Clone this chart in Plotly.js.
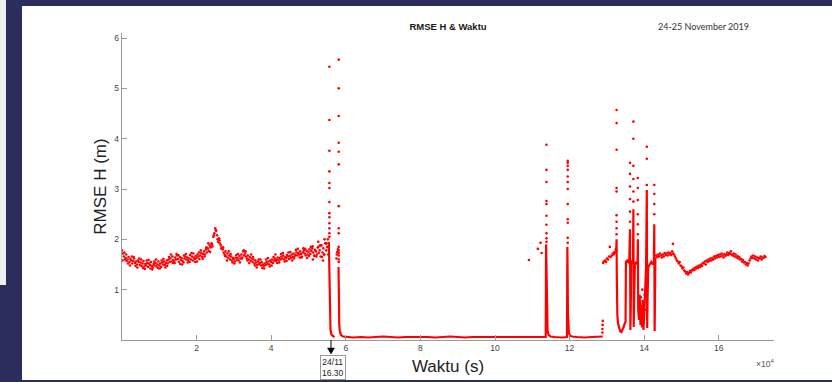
<!DOCTYPE html>
<html><head><meta charset="utf-8">
<script src="https://cdn.plot.ly/plotly-3.0.1.min.js"></script>
<style>
html,body{margin:0;padding:0;width:832px;height:382px;overflow:hidden;background:#2b2e5c;}
#panel{position:absolute;left:0;top:0;width:6px;height:285px;background:#f0f0f0;}
#chart{position:absolute;left:22px;top:6px;width:810px;height:374px;background:#fff;}
</style></head><body>
<div id="panel"></div><div id="chart"></div>
<script>
// Noisy segment before the first drop (time in s, RMSE H in m)
const segA_x = [0,250,500,750,1000,1250,1500,1750,2000,2250,2500,2750,3000,3250,3500,3750,4000,4250,4500,4750,
5000,5250,5500,5750,6000,6250,6500,6750,7000,7250,7500,7750,8000,8250,8500,8750,9000,9250,9500,9750,
10000,10250,10500,10750,11000,11250,11500,11750,12000,12250,12500,12750,13000,13250,13500,13750,14000,14250,14500,14750,
15000,15250,15500,15750,16000,16250,16500,16750,17000,17250,17500,17750,18000,18250,18500,18750,19000,19250,19500,19750,
20000,20250,20500,20750,21000,21250,21500,21750,22000,22250,22500,22750,23000,23250,23500,23750,24000,24250,24500,24750,
25000,25250,25500,25750,26000,26250,26500,26750,27000,27250,27500,27750,28000,28250,28500,28750,29000,29250,29500,29750,
30000,30250,30500,30750,31000,31250,31500,31750,32000,32250,32500,32750,33000,33250,33500,33750,34000,34250,34500,34750,
35000,35250,35500,35750,36000,36250,36500,36750,37000,37250,37500,37750,38000,38250,38500,38750,39000,39250,39500,39750,
40000,40250,40500,40750,41000,41250,41500,41750,42000,42250,42500,42750,43000,43250,43500,43750,44000,44250,44500,44750,
45000,45250,45500,45750,46000,46250,46500,46750,47000,47250,47500,47750,48000,48250,48500,48750,49000,49250,49500,49750,
50000,50250,50500,50750,51000,51250,51500,51750,52000,52250,52500,52750,53000,53250,53500,53750,54000,54250,54500,54750,
55000];
const segA_y = [1.78,1.72,1.66,1.60, 1.63,1.57,1.60,1.65, 1.55,1.61,1.58,1.52, 1.57,1.62,1.53,1.56, 1.50,1.58,1.55,1.49,
1.54,1.47,1.52,1.57, 1.46,1.51,1.48,1.53, 1.45,1.52,1.49,1.55, 1.47,1.44,1.51,1.48, 1.53,1.46,1.50,1.56,
1.48,1.52,1.45,1.54, 1.50,1.56,1.49,1.53, 1.58,1.52,1.60,1.55, 1.62,1.56,1.66,1.59, 1.57,1.64,1.60,1.68,
1.61,1.55,1.65,1.59, 1.63,1.57,1.54,1.62, 1.66,1.60,1.64,1.58, 1.62,1.69,1.60,1.66, 1.58,1.64,1.61,1.67,
1.63,1.70,1.66,1.61, 1.68,1.73,1.65,1.71, 1.76,1.70,1.80,1.74, 1.82,1.77,1.88,1.84, 1.92,1.86,2.05,2.12,
2.22,2.17,2.08,1.95, 2.02,1.92,1.88,1.83, 1.80,1.74,1.70,1.76, 1.66,1.72,1.63,1.68, 1.60,1.66,1.58,1.63,
1.61,1.56,1.64,1.59, 1.63,1.58,1.67,1.62, 1.70,1.64,1.76,1.68, 1.72,1.66,1.62,1.68, 1.60,1.65,1.57,1.62,
1.55,1.60,1.52,1.58, 1.54,1.49,1.56,1.51, 1.53,1.48,1.55,1.50, 1.47,1.52,1.49,1.55, 1.51,1.56,1.50,1.58,
1.55,1.60,1.53,1.58, 1.62,1.57,1.60,1.64, 1.58,1.63,1.60,1.66, 1.62,1.68,1.60,1.65, 1.63,1.69,1.66,1.61,
1.67,1.63,1.70,1.65, 1.72,1.66,1.69,1.74, 1.68,1.73,1.70,1.76, 1.71,1.66,1.74,1.78, 1.72,1.68,1.77,1.70,
1.75,1.80,1.71,1.77, 1.82,1.74,1.68,1.79, 1.76,1.70,1.84,1.73, 1.78,1.66,1.88,1.74, 1.82,1.70,1.92,1.78,
1.85];
// Second, more scattered set of samples in the same segment
const segA2_x = [125,625,1125,1625,2125,2625,3125,3625,4125,4625,5125,5625,6125,6625,7125,7625,8125,8625,9125,9625,
10125,10625,11125,11625,12125,12625,13125,13625,14125,14625,15125,15625,16125,16625,17125,17625,18125,18625,19125,19625,
20125,20625,21125,21625,22125,22625,23125,23625,24125,24625,25125,25625,26125,26625,27125,27625,28125,28625,29125,29625,
30125,30625,31125,31625,32125,32625,33125,33625,34125,34625,35125,35625,36125,36625,37125,37625,38125,38625,39125,39625,
40125,40625,41125,41625,42125,42625,43125,43625,44125,44625,45125,45625,46125,46625,47125,47625,48125,48625,49125,49625,
50125,50625,51125,51625,52125,52625,53125,53625,54125,54625];
const segA2_y = [1.58,1.74, 1.70,1.52, 1.48,1.66, 1.65,1.47, 1.44,1.62, 1.60,1.43, 1.41,1.58, 1.59,1.42, 1.40,1.56, 1.60,1.43,
1.42,1.58, 1.61,1.44, 1.47,1.65, 1.70,1.53, 1.53,1.71, 1.69,1.51, 1.50,1.68, 1.71,1.54, 1.55,1.73, 1.72,1.55,
1.56,1.74, 1.78,1.61, 1.66,1.84, 1.92,1.75, 1.90,2.08, 2.18,2.00, 1.98,1.82, 1.84,1.67, 1.58,1.76, 1.71,1.54,
1.52,1.69, 1.71,1.54, 1.62,1.78, 1.76,1.58, 1.53,1.70, 1.65,1.48, 1.44,1.60, 1.60,1.43, 1.42,1.60, 1.63,1.46,
1.48,1.65, 1.70,1.53, 1.54,1.71, 1.73,1.56, 1.57,1.74, 1.75,1.58, 1.62,1.79, 1.81,1.64, 1.64,1.82, 1.81,1.63,
1.67,1.85, 1.86,1.67, 1.66,1.85, 1.88,1.65, 1.70,1.92];

// Short block before the morning spikes
const segB_x = [129000,129200,129500,129800,130000,130300,130600,130800,131000,131300,131600,131800,132000,132200,132400,132500];
const segB_y = [1.53,1.56,1.58,1.55,1.62,1.60,1.66,1.85,1.65,1.68,1.72,1.70,1.75,1.73,1.80,1.78];

// Final noisy segment
const segD_x = [143000,143250,143500,143750,144000,144250,144500,144750,145000,145250,145500,145750,146000,146250,146500,146750,
147000,147250,147500,147750,148000,148250,148500,148750,149000,149250,149500,149750,150000,150250,150500,150750,
151000,151250,151500,151750,152000,152250,152500,152750,153000,153250,153500,153750,154000,154250,154500,154750,
155000,155250,155500,155750,156000,156250,156500,156750,157000,157250,157500,157750,158000,158250,158500,158750,
159000,159250,159500,159750,160000,160250,160500,160750,161000,161250,161500,161750,162000,162250,162500,162750,
163000,163250,163500,163750,164000,164250,164500,164750,165000,165250,165500,165750,166000,166250,166500,166750,
167000,167250,167500,167750,168000,168250,168500,168750,169000,169250,169500,169750,170000,170250,170500,170750,
171000,171250,171500,171750,172000,172250,172500];
const segD_y = [1.62,1.68,1.65,1.70, 1.66,1.72,1.68,1.64, 1.70,1.66,1.73,1.69, 1.72,1.68,1.74,1.70,
1.73,1.69,1.76,1.72, 1.70,1.66,1.62,1.58, 1.56,1.52,1.55,1.48, 1.46,1.42,1.44,1.38,
1.36,1.32,1.35,1.30, 1.33,1.37,1.34,1.39, 1.38,1.42,1.39,1.44, 1.42,1.46,1.43,1.48,
1.45,1.50,1.47,1.53, 1.52,1.56,1.50,1.58, 1.55,1.60,1.57,1.62, 1.58,1.63,1.60,1.66,
1.62,1.67,1.64,1.69, 1.65,1.70,1.66,1.72, 1.68,1.64,1.71,1.67, 1.70,1.74,1.69,1.73,
1.71,1.76,1.70,1.68, 1.72,1.66,1.70,1.64, 1.67,1.62,1.65,1.60, 1.61,1.56,1.59,1.54,
1.55,1.50,1.53,1.48, 1.52,1.58,1.62,1.66, 1.63,1.68,1.62,1.66, 1.60,1.64,1.58,1.63,
1.62,1.66,1.60,1.64, 1.63,1.67,1.65];

// Isolated dots: spike columns and outliers
const spike_x = [55600,55600,55600,55600,55600,55600,55600,55600,55600,55600,55600,55600,55600,
58100,58100,58100,58100,58100,58100,58100,58100,58100,58100,58100,58100,58100,58100,58100,
57500,57600,57700,57900,
51200,52600,53900,54300,54800,55200,55300,
109100,111500,112200,112500,
113800,113800,113800,113800,113800,113800,113800,113800,113800,113800,
119500,119500,119500,119500,119500,119500,119500,119500,119500,119500,119500,119500,
128800,128800,128850,128900,
132600,132600,132600,132600,132600,132600,132600,132600,132600,
136200,136200,136200,136200,136200,136200,
137100,137100,137100,137100,137100,137100,
138300,138300,138300,138300,138300,138300,
138700,139100,139300,139500,139700,139900,140100,140300,
140700,140700,140700,
142700,142700,142700,142700,
147700];
const spike_y = [5.43,4.37,3.76,3.35,3.12,3.02,2.74,2.52,2.44,2.32,2.22,2.12,2.05,
5.57,5.00,4.45,3.92,3.74,3.49,2.66,2.22,2.12,1.85,1.78,1.73,1.68,1.60,1.55,
1.62,1.70,1.75,1.80,
1.60,1.95,1.58,2.00,1.92,2.00,1.70,
1.59,1.81,1.93,1.73,
3.88,3.38,3.14,2.76,2.70,2.47,2.29,2.12,2.02,1.95,
3.56,3.52,3.46,3.38,3.25,3.14,3.00,2.70,2.40,2.33,2.03,1.93,
0.15,0.22,0.30,0.38,
4.57,4.31,3.78,3.02,2.95,2.48,2.35,2.22,2.10,
3.52,3.30,3.05,2.80,2.55,2.35,
4.34,4.00,3.46,3.20,2.95,2.75,
3.22,3.02,2.78,2.50,2.30,2.10,
0.55,0.85,0.45,1.00,0.35,0.70,0.90,0.60,
3.84,3.60,3.08,
3.08,2.90,2.70,2.50,
1.91];

// Dense (continuously sampled) stretches: drops, baseline and spike bodies
const dense_x = [55450,55550,55600,55650,55750,55900,56100,56500,57000,null,
58050,58100,58150,58250,58400,58700,59200,60000,62000,64000,66000,68000,70000,72000,74000,76000,78000,80000,
82000,84000,86000,88000,90000,92000,94000,96000,98000,100000,102000,104000,106000,108000,110000,112000,113600,
113700,113800,113850,113950,114100,114400,114900,116000,118000,119300,
119400,119500,119550,119650,119800,120100,120600,122000,124000,126000,128000,128600,128900,null,
132500,132600,132650,132700,132800,133000,133300,133600,133900,134200,134500,134800,135000,
135100,135400,135700,136000,136200,136250,136300,136400,136500,136700,137000,
137100,137150,137200,137300,137500,137800,138200,138300,138400,138600,138800,139000,139200,139400,139600,139800,
140000,140300,140500,140700,140750,140800,140900,141100,141500,141900,142300,142600,
142700,142750,142800,142900,143000];
const dense_y = [1.95,1.50,1.00,0.60,0.35,0.20,0.12,0.08,0.06,null,
1.45,1.00,0.60,0.30,0.18,0.10,0.07,0.06,0.05,0.06,0.05,0.06,0.07,0.06,0.05,0.06,0.06,0.07,
0.06,0.05,0.06,0.07,0.06,0.05,0.06,0.06,0.05,0.06,0.05,0.06,0.05,0.06,0.06,0.05,0.06,
1.90,1.20,0.60,0.30,0.17,0.10,0.07,0.06,0.05,0.06,
1.85,1.10,0.55,0.28,0.15,0.09,0.07,0.06,0.05,0.06,0.06,0.07,0.07,null,
1.78,2.00,1.30,0.80,0.50,0.32,0.22,0.17,0.16,0.20,0.26,0.33,0.36,
1.55,1.58,1.55,1.60,2.20,0.80,0.20,0.60,1.50,1.55,1.60,
2.60,0.90,0.26,0.80,1.50,1.55,1.50,2.00,0.60,0.40,0.90,0.30,0.70,0.25,0.80,0.20,
0.50,1.00,1.45,2.98,1.00,0.24,0.80,1.45,1.50,1.55,1.50,1.55,
2.30,0.80,0.18,0.90,1.60];

const xTickVals = [20000,40000,60000,80000,100000,120000,140000,160000];
const xTickText = ['2','4','6','8','10','12','14','16'];
const yTickVals = [1,2,3,4,5,6];

const red = '#ff0000';
const dotStyle = {color: red, size: 2.6};
const traces = [
  {x: segA_x, y: segA_y, type:'scatter', mode:'markers', marker: dotStyle, hoverinfo:'skip'},
  {x: segA2_x, y: segA2_y, type:'scatter', mode:'markers', marker: dotStyle, hoverinfo:'skip'},
  {x: segB_x, y: segB_y, type:'scatter', mode:'markers', marker: dotStyle, hoverinfo:'skip'},
  {x: segD_x, y: segD_y, type:'scatter', mode:'markers', marker: dotStyle, hoverinfo:'skip'},
  {x: spike_x, y: spike_y, type:'scatter', mode:'markers', marker: dotStyle, hoverinfo:'skip'},
  {x: dense_x, y: dense_y, type:'scatter', mode:'lines', line:{color: red, width: 2.2}, connectgaps:false, hoverinfo:'skip'}
];

// pixel helpers for placing text in paper coordinates (plot area: x 122..774, y 33..340 in page px)
const px = v => (v - 122) / 652;
const py = v => (340 - v) / 307;

const axisGray = '#9a9a9a';
const layout = {
  width: 810, height: 374,
  margin: {l: 100, r: 58, t: 27, b: 40},
  paper_bgcolor: '#ffffff', plot_bgcolor: '#ffffff',
  showlegend: false,
  font: {family: '"Liberation Sans", Arial, sans-serif', color: '#222'},
  title: {text: '<b>RMSE H & Waktu</b>', font: {size: 9.5, color: '#1a1a1a'},
          xref: 'paper', x: 0.5, xanchor: 'center', yref: 'container', y: 1 - 21/374, yanchor: 'middle'},
  xaxis: {range: [0, 174800], showline: true, linecolor: axisGray, linewidth: 1.2,
          ticks: 'inside', ticklen: 5, tickcolor: axisGray, tickwidth: 1,
          tickvals: xTickVals, ticktext: xTickText, tickfont: {size: 8.5, color: '#444'},
          showgrid: false, zeroline: false, mirror: false,
          title: {text: 'Waktu (s)', font: {size: 17, color: '#222'}, standoff: 7}},
  yaxis: {range: [0, 6.1], showline: true, linecolor: axisGray, linewidth: 1.2,
          ticks: 'inside', ticklen: 5, tickcolor: axisGray, tickwidth: 1,
          tickvals: yTickVals, tickfont: {size: 8.5, color: '#444'},
          showgrid: false, zeroline: false, mirror: false,
          title: {text: 'RMSE H (m)', font: {size: 17, color: '#222'}, standoff: 3}},
  shapes: [
    {type: 'line', xref: 'paper', yref: 'paper', x0: px(331), x1: px(331), y0: py(340), y1: py(350),
     line: {color: '#000', width: 1}},
    {type: 'path', xref: 'paper', yref: 'paper',
     path: 'M ' + px(327.5) + ' ' + py(348) + ' L ' + px(334.5) + ' ' + py(348) + ' L ' + px(331) + ' ' + py(354) + ' Z',
     fillcolor: '#000', line: {color: '#000', width: 0.5}}
  ],
  annotations: [
    {text: '24-25 November 2019', xref: 'paper', yref: 'paper', x: px(703.5), y: py(27),
     xanchor: 'center', yanchor: 'middle', showarrow: false,
     font: {family: 'Lato, "Liberation Sans", sans-serif', size: 9, color: '#333'}},
    {text: '×10<sup>4</sup>', xref: 'paper', yref: 'paper', x: px(765), y: py(363),
     xanchor: 'center', yanchor: 'middle', showarrow: false, font: {size: 8.5, color: '#555'}},
    {text: '24/11<br>16.30', xref: 'paper', yref: 'paper', x: px(333), y: py(367),
     xanchor: 'center', yanchor: 'middle', showarrow: false, font: {size: 8.5, color: '#222'},
     bordercolor: '#9a9a9a', borderwidth: 1, borderpad: 1, bgcolor: '#ffffff'}
  ]
};

Plotly.newPlot('chart', traces, layout, {staticPlot: true, displayModeBar: false});
</script></body></html>
